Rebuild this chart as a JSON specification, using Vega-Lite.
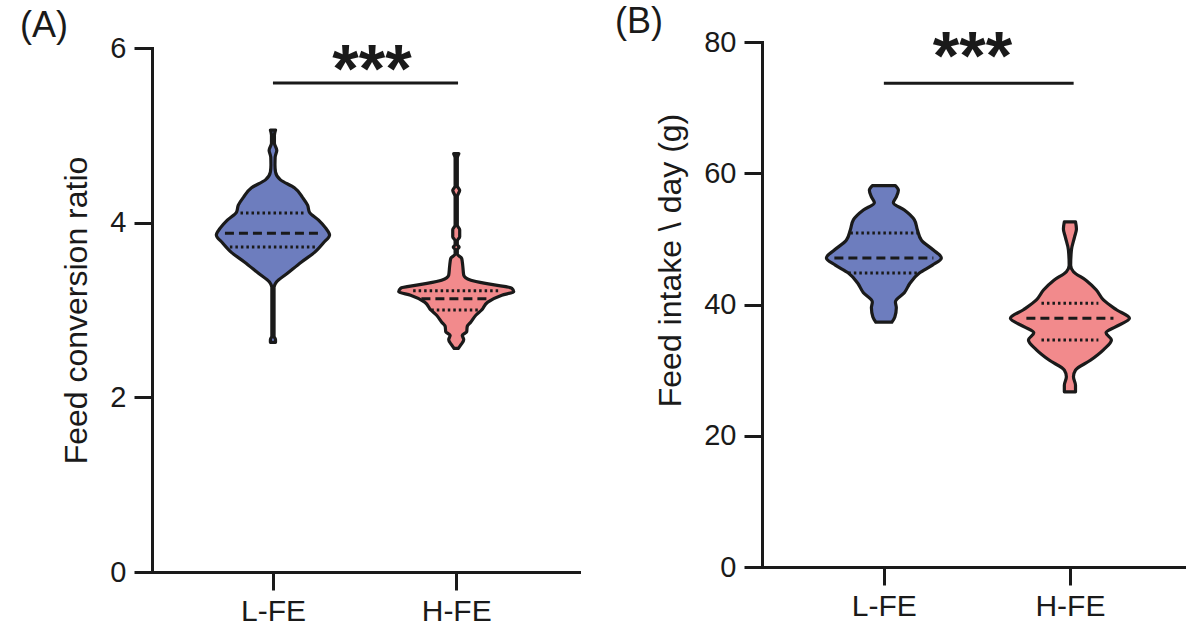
{
  "$schema": "https://vega.github.io/schema/vega-lite/v6.json",
  "autosize": {"type": "none"},
  "padding": {"left": 152, "top": 42, "right": 1034, "bottom": 590},
  "background": "white",
  "config": {
    "font": "Liberation Sans",
    "view": {"stroke": null},
    "axis": {
      "grid": false,
      "domainColor": "#1a1a1a", "domainWidth": 3, "domainCap": "square",
      "tickColor": "#1a1a1a", "tickWidth": 3, "tickSize": 18,
      "labelFont": "Liberation Sans", "labelFontSize": 29, "labelColor": "#1a1a1a", "labelPadding": 8,
      "titleFont": "Liberation Sans", "titleFontSize": 32, "titleFontWeight": "normal", "titleColor": "#1a1a1a", "titlePadding": 16
    }
  },
  "datasets": {
    "violinA": [
      {"g": "L-FE", "value": 5.06, "lo": 0.986, "hi": 1.014},
      {"g": "L-FE", "value": 5.00, "lo": 0.992, "hi": 1.008},
      {"g": "L-FE", "value": 4.91, "lo": 0.992, "hi": 1.008},
      {"g": "L-FE", "value": 4.83, "lo": 0.979, "hi": 1.021},
      {"g": "L-FE", "value": 4.75, "lo": 0.988, "hi": 1.012},
      {"g": "L-FE", "value": 4.66, "lo": 0.989, "hi": 1.011},
      {"g": "L-FE", "value": 4.58, "lo": 0.986, "hi": 1.014},
      {"g": "L-FE", "value": 4.49, "lo": 0.959, "hi": 1.041},
      {"g": "L-FE", "value": 4.40, "lo": 0.883, "hi": 1.117},
      {"g": "L-FE", "value": 4.29, "lo": 0.839, "hi": 1.161},
      {"g": "L-FE", "value": 4.20, "lo": 0.811, "hi": 1.189},
      {"g": "L-FE", "value": 4.12, "lo": 0.801, "hi": 1.199},
      {"g": "L-FE", "value": 4.03, "lo": 0.751, "hi": 1.249},
      {"g": "L-FE", "value": 3.94, "lo": 0.713, "hi": 1.287},
      {"g": "L-FE", "value": 3.86, "lo": 0.691, "hi": 1.309},
      {"g": "L-FE", "value": 3.77, "lo": 0.724, "hi": 1.276},
      {"g": "L-FE", "value": 3.66, "lo": 0.773, "hi": 1.227},
      {"g": "L-FE", "value": 3.55, "lo": 0.844, "hi": 1.156},
      {"g": "L-FE", "value": 3.42, "lo": 0.921, "hi": 1.079},
      {"g": "L-FE", "value": 3.32, "lo": 0.981, "hi": 1.019},
      {"g": "L-FE", "value": 3.26, "lo": 0.994, "hi": 1.006},
      {"g": "L-FE", "value": 2.70, "lo": 0.994, "hi": 1.006},
      {"g": "L-FE", "value": 2.66, "lo": 0.986, "hi": 1.014},
      {"g": "L-FE", "value": 2.63, "lo": 0.986, "hi": 1.014},
      {"g": "H-FE", "value": 4.79, "lo": 1.986, "hi": 2.014},
      {"g": "H-FE", "value": 4.74, "lo": 1.994, "hi": 2.006},
      {"g": "H-FE", "value": 4.42, "lo": 1.994, "hi": 2.006},
      {"g": "H-FE", "value": 4.37, "lo": 1.981, "hi": 2.019},
      {"g": "H-FE", "value": 4.30, "lo": 1.994, "hi": 2.006},
      {"g": "H-FE", "value": 3.97, "lo": 1.994, "hi": 2.006},
      {"g": "H-FE", "value": 3.92, "lo": 1.981, "hi": 2.019},
      {"g": "H-FE", "value": 3.84, "lo": 1.981, "hi": 2.019},
      {"g": "H-FE", "value": 3.79, "lo": 1.994, "hi": 2.006},
      {"g": "H-FE", "value": 3.75, "lo": 1.994, "hi": 2.006},
      {"g": "H-FE", "value": 3.72, "lo": 1.984, "hi": 2.016},
      {"g": "H-FE", "value": 3.69, "lo": 1.994, "hi": 2.006},
      {"g": "H-FE", "value": 3.64, "lo": 1.994, "hi": 2.006},
      {"g": "H-FE", "value": 3.59, "lo": 1.970, "hi": 2.030},
      {"g": "H-FE", "value": 3.50, "lo": 1.964, "hi": 2.036},
      {"g": "H-FE", "value": 3.40, "lo": 1.959, "hi": 2.041},
      {"g": "H-FE", "value": 3.34, "lo": 1.920, "hi": 2.080},
      {"g": "H-FE", "value": 3.29, "lo": 1.800, "hi": 2.200},
      {"g": "H-FE", "value": 3.25, "lo": 1.697, "hi": 2.303},
      {"g": "H-FE", "value": 3.21, "lo": 1.686, "hi": 2.314},
      {"g": "H-FE", "value": 3.17, "lo": 1.751, "hi": 2.249},
      {"g": "H-FE", "value": 3.09, "lo": 1.828, "hi": 2.172},
      {"g": "H-FE", "value": 3.00, "lo": 1.861, "hi": 2.139},
      {"g": "H-FE", "value": 2.94, "lo": 1.893, "hi": 2.107},
      {"g": "H-FE", "value": 2.86, "lo": 1.921, "hi": 2.079},
      {"g": "H-FE", "value": 2.81, "lo": 1.940, "hi": 2.060},
      {"g": "H-FE", "value": 2.75, "lo": 1.943, "hi": 2.057},
      {"g": "H-FE", "value": 2.71, "lo": 1.967, "hi": 2.033},
      {"g": "H-FE", "value": 2.66, "lo": 1.959, "hi": 2.041},
      {"g": "H-FE", "value": 2.60, "lo": 1.975, "hi": 2.025},
      {"g": "H-FE", "value": 2.56, "lo": 1.989, "hi": 2.011}
    ],
    "quartA": [
      {"g": "L-FE", "stat": "quartile", "value": 4.11, "lo": 0.823, "hi": 1.177},
      {"g": "L-FE", "stat": "median", "value": 3.88, "lo": 0.738, "hi": 1.262},
      {"g": "L-FE", "stat": "quartile", "value": 3.72, "lo": 0.765, "hi": 1.235},
      {"g": "H-FE", "stat": "quartile", "value": 3.22, "lo": 1.765, "hi": 2.235},
      {"g": "H-FE", "stat": "median", "value": 3.13, "lo": 1.81, "hi": 2.19},
      {"g": "H-FE", "stat": "quartile", "value": 3.00, "lo": 1.864, "hi": 2.136}
    ],
    "violinB": [
      {"g": "L-FE", "value": 58.1, "lo": 0.938, "hi": 1.062},
      {"g": "L-FE", "value": 57.4, "lo": 0.922, "hi": 1.078},
      {"g": "L-FE", "value": 56.4, "lo": 0.933, "hi": 1.067},
      {"g": "L-FE", "value": 55.5, "lo": 0.949, "hi": 1.051},
      {"g": "L-FE", "value": 54.4, "lo": 0.890, "hi": 1.110},
      {"g": "L-FE", "value": 52.9, "lo": 0.836, "hi": 1.164},
      {"g": "L-FE", "value": 51.4, "lo": 0.820, "hi": 1.180},
      {"g": "L-FE", "value": 49.8, "lo": 0.798, "hi": 1.202},
      {"g": "L-FE", "value": 48.3, "lo": 0.734, "hi": 1.266},
      {"g": "L-FE", "value": 47.1, "lo": 0.691, "hi": 1.309},
      {"g": "L-FE", "value": 46.0, "lo": 0.739, "hi": 1.261},
      {"g": "L-FE", "value": 44.8, "lo": 0.809, "hi": 1.191},
      {"g": "L-FE", "value": 43.3, "lo": 0.858, "hi": 1.142},
      {"g": "L-FE", "value": 41.8, "lo": 0.890, "hi": 1.110},
      {"g": "L-FE", "value": 40.4, "lo": 0.938, "hi": 1.062},
      {"g": "L-FE", "value": 39.5, "lo": 0.933, "hi": 1.067},
      {"g": "L-FE", "value": 38.1, "lo": 0.941, "hi": 1.059},
      {"g": "L-FE", "value": 37.3, "lo": 0.957, "hi": 1.043},
      {"g": "H-FE", "value": 52.6, "lo": 1.970, "hi": 2.030},
      {"g": "H-FE", "value": 51.5, "lo": 1.965, "hi": 2.035},
      {"g": "H-FE", "value": 50.3, "lo": 1.975, "hi": 2.025},
      {"g": "H-FE", "value": 48.3, "lo": 1.992, "hi": 2.008},
      {"g": "H-FE", "value": 46.0, "lo": 1.996, "hi": 2.004},
      {"g": "H-FE", "value": 45.0, "lo": 1.981, "hi": 2.019},
      {"g": "H-FE", "value": 43.7, "lo": 1.914, "hi": 2.086},
      {"g": "H-FE", "value": 42.2, "lo": 1.858, "hi": 2.142},
      {"g": "H-FE", "value": 40.7, "lo": 1.820, "hi": 2.180},
      {"g": "H-FE", "value": 39.2, "lo": 1.750, "hi": 2.250},
      {"g": "H-FE", "value": 37.9, "lo": 1.680, "hi": 2.320},
      {"g": "H-FE", "value": 36.6, "lo": 1.755, "hi": 2.245},
      {"g": "H-FE", "value": 35.7, "lo": 1.806, "hi": 2.194},
      {"g": "H-FE", "value": 34.6, "lo": 1.777, "hi": 2.223},
      {"g": "H-FE", "value": 33.1, "lo": 1.820, "hi": 2.180},
      {"g": "H-FE", "value": 31.5, "lo": 1.890, "hi": 2.110},
      {"g": "H-FE", "value": 30.0, "lo": 1.970, "hi": 2.030},
      {"g": "H-FE", "value": 29.0, "lo": 1.981, "hi": 2.019},
      {"g": "H-FE", "value": 27.7, "lo": 1.970, "hi": 2.030},
      {"g": "H-FE", "value": 26.7, "lo": 1.970, "hi": 2.030}
    ],
    "quartB": [
      {"g": "L-FE", "stat": "quartile", "value": 50.9, "lo": 0.82, "hi": 1.18},
      {"g": "L-FE", "stat": "median", "value": 47.1, "lo": 0.734, "hi": 1.266},
      {"g": "L-FE", "stat": "quartile", "value": 44.8, "lo": 0.809, "hi": 1.191},
      {"g": "H-FE", "stat": "quartile", "value": 40.2, "lo": 1.847, "hi": 2.153},
      {"g": "H-FE", "stat": "median", "value": 37.9, "lo": 1.766, "hi": 2.234},
      {"g": "H-FE", "stat": "quartile", "value": 34.6, "lo": 1.847, "hi": 2.153}
    ]
  },
  "spacing": 183,
  "bounds": "flush",
  "hconcat": [
    {
      "width": 427,
      "height": 530,
      "title": {"text": "(A)", "anchor": "start", "frame": "group", "dx": -132, "dy": 43, "offset": 4, "baseline": "alphabetic", "fontSize": 36, "fontWeight": "normal", "font": "Liberation Sans", "color": "#1a1a1a"},
      "layer": [
        {
          "data": {"name": "violinA"},
          "mark": {"type": "area", "orient": "horizontal", "interpolate": "monotone", "stroke": "#1a1a1a", "strokeWidth": 3.2, "strokeJoin": "round"},
          "encoding": {
            "y": {"field": "value", "type": "quantitative", "scale": {"domain": [0, 6], "range": [530, 6], "nice": false}, "axis": {"values": [0, 2, 4, 6], "format": "d", "title": "Feed conversion ratio", "titleY": 268}},
            "x": {"field": "lo", "type": "quantitative", "scale": {"domain": [0.34, 2.67], "nice": false, "zero": false}, "axis": {"values": [1, 2], "labelExpr": "datum.value == 1 ? 'L-FE' : 'H-FE'", "title": null, "labelFontSize": 30, "labelPadding": 6}},
            "x2": {"field": "hi"},
            "color": {"field": "g", "type": "nominal", "scale": {"domain": ["L-FE", "H-FE"], "range": ["#6D7DBE", "#F28A8C"]}, "legend": null}
          }
        },
        {
          "data": {"name": "quartA"},
          "mark": {"type": "rule", "strokeWidth": 3, "color": "#1a1a1a"},
          "encoding": {
            "y": {"field": "value", "type": "quantitative"},
            "x": {"field": "lo", "type": "quantitative"},
            "x2": {"field": "hi"},
            "strokeDash": {"field": "stat", "type": "nominal", "scale": {"domain": ["median", "quartile"], "range": [[9, 5], [2.5, 3]]}, "legend": null}
          }
        },
        {
          "data": {"values": [{}]},
          "mark": {"type": "rule", "strokeWidth": 3, "color": "#1a1a1a"},
          "encoding": {"x": {"datum": 1}, "x2": {"datum": 2.01}, "y": {"datum": 5.6}}
        },
        {
          "data": {"values": [{}]},
          "mark": {"type": "text", "text": "***", "fontSize": 68, "fontWeight": "bold", "font": "Liberation Sans", "baseline": "alphabetic", "align": "center", "color": "#1a1a1a"},
          "encoding": {"x": {"datum": 1.54}, "y": {"datum": 5.5}}
        }
      ]
    },
    {
      "width": 427,
      "height": 525,
      "title": {"text": "(B)", "anchor": "start", "frame": "group", "dx": -147, "dy": 48, "offset": 4, "baseline": "alphabetic", "fontSize": 36, "fontWeight": "normal", "font": "Liberation Sans", "color": "#1a1a1a"},
      "layer": [
        {
          "data": {"name": "violinB"},
          "mark": {"type": "area", "orient": "horizontal", "interpolate": "monotone", "stroke": "#1a1a1a", "strokeWidth": 3.2, "strokeJoin": "round"},
          "encoding": {
            "y": {"field": "value", "type": "quantitative", "scale": {"domain": [0, 80], "nice": false}, "axis": {"values": [0, 20, 40, 60, 80], "format": "d", "title": "Feed intake \\ day (g)", "titleY": 218}},
            "x": {"field": "lo", "type": "quantitative", "scale": {"domain": [0.345, 2.64], "nice": false, "zero": false}, "axis": {"values": [1, 2], "labelExpr": "datum.value == 1 ? 'L-FE' : 'H-FE'", "title": null, "labelFontSize": 30, "labelPadding": 6}},
            "x2": {"field": "hi"},
            "color": {"field": "g", "type": "nominal", "scale": {"domain": ["L-FE", "H-FE"], "range": ["#6D7DBE", "#F28A8C"]}, "legend": null}
          }
        },
        {
          "data": {"name": "quartB"},
          "mark": {"type": "rule", "strokeWidth": 3, "color": "#1a1a1a"},
          "encoding": {
            "y": {"field": "value", "type": "quantitative"},
            "x": {"field": "lo", "type": "quantitative"},
            "x2": {"field": "hi"},
            "strokeDash": {"field": "stat", "type": "nominal", "scale": {"domain": ["median", "quartile"], "range": [[9, 5], [2.5, 3]]}, "legend": null}
          }
        },
        {
          "data": {"values": [{}]},
          "mark": {"type": "rule", "strokeWidth": 3, "color": "#1a1a1a"},
          "encoding": {"x": {"datum": 1}, "x2": {"datum": 2.02}, "y": {"datum": 73.7}}
        },
        {
          "data": {"values": [{}]},
          "mark": {"type": "text", "text": "***", "fontSize": 68, "fontWeight": "bold", "font": "Liberation Sans", "baseline": "alphabetic", "align": "center", "color": "#1a1a1a"},
          "encoding": {"x": {"datum": 1.476}, "y": {"datum": 74.4}}
        }
      ]
    }
  ]
}
